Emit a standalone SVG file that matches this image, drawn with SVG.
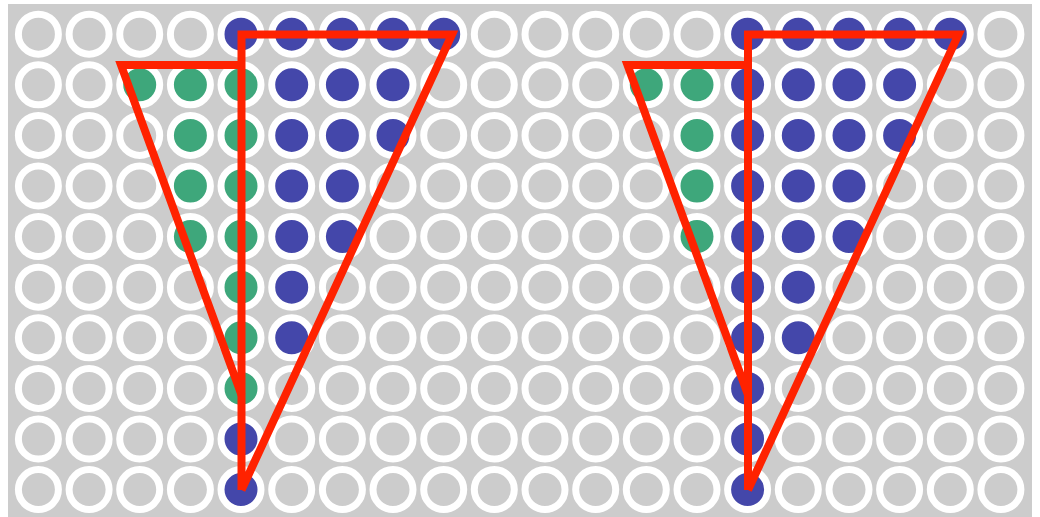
<svg xmlns="http://www.w3.org/2000/svg" width="1040" height="517" viewBox="0 0 1040 517">
<style>
circle{fill:#cccccc;stroke:#ffffff;stroke-width:7}
circle.b{fill:#4447aa}
circle.g{fill:#3ea77b}
.red{fill:none;stroke:#ff2200;stroke-width:8;stroke-linejoin:miter;stroke-miterlimit:10;stroke-linecap:butt}
</style>
<rect x="8" y="4" width="1024" height="513" fill="#cccccc"/>
<g id="grid">
<g id="row0" transform="translate(0,34.2)">
<circle cx="38.4" r="20"/><circle cx="89.1" r="20"/><circle cx="139.7" r="20"/><circle cx="190.4" r="20"/><circle class="b" cx="241" r="20"/><circle class="b" cx="291.7" r="20"/><circle class="b" cx="342.4" r="20"/><circle class="b" cx="393" r="20"/><circle class="b" cx="443.7" r="20"/><circle cx="494.3" r="20"/><circle cx="545" r="20"/><circle cx="595.7" r="20"/><circle cx="646.3" r="20"/><circle cx="697" r="20"/><circle class="b" cx="747.6" r="20"/><circle class="b" cx="798.3" r="20"/><circle class="b" cx="849" r="20"/><circle class="b" cx="899.6" r="20"/><circle class="b" cx="950.3" r="20"/><circle cx="1000.9" r="20"/>
</g>
<g id="row1" transform="translate(0,84.8)">
<circle cx="38.4" r="20"/><circle cx="89.1" r="20"/><circle class="g" cx="139.7" r="20"/><circle class="g" cx="190.4" r="20"/><circle class="g" cx="241" r="20"/><circle class="b" cx="291.7" r="20"/><circle class="b" cx="342.4" r="20"/><circle class="b" cx="393" r="20"/><circle cx="443.7" r="20"/><circle cx="494.3" r="20"/><circle cx="545" r="20"/><circle cx="595.7" r="20"/><circle class="g" cx="646.3" r="20"/><circle class="g" cx="697" r="20"/><circle class="b" cx="747.6" r="20"/><circle class="b" cx="798.3" r="20"/><circle class="b" cx="849" r="20"/><circle class="b" cx="899.6" r="20"/><circle cx="950.3" r="20"/><circle cx="1000.9" r="20"/>
</g>
<g id="row2" transform="translate(0,135.4)">
<circle cx="38.4" r="20"/><circle cx="89.1" r="20"/><circle cx="139.7" r="20"/><circle class="g" cx="190.4" r="20"/><circle class="g" cx="241" r="20"/><circle class="b" cx="291.7" r="20"/><circle class="b" cx="342.4" r="20"/><circle class="b" cx="393" r="20"/><circle cx="443.7" r="20"/><circle cx="494.3" r="20"/><circle cx="545" r="20"/><circle cx="595.7" r="20"/><circle cx="646.3" r="20"/><circle class="g" cx="697" r="20"/><circle class="b" cx="747.6" r="20"/><circle class="b" cx="798.3" r="20"/><circle class="b" cx="849" r="20"/><circle class="b" cx="899.6" r="20"/><circle cx="950.3" r="20"/><circle cx="1000.9" r="20"/>
</g>
<g id="row3" transform="translate(0,186)">
<circle cx="38.4" r="20"/><circle cx="89.1" r="20"/><circle cx="139.7" r="20"/><circle class="g" cx="190.4" r="20"/><circle class="g" cx="241" r="20"/><circle class="b" cx="291.7" r="20"/><circle class="b" cx="342.4" r="20"/><circle cx="393" r="20"/><circle cx="443.7" r="20"/><circle cx="494.3" r="20"/><circle cx="545" r="20"/><circle cx="595.7" r="20"/><circle cx="646.3" r="20"/><circle class="g" cx="697" r="20"/><circle class="b" cx="747.6" r="20"/><circle class="b" cx="798.3" r="20"/><circle class="b" cx="849" r="20"/><circle cx="899.6" r="20"/><circle cx="950.3" r="20"/><circle cx="1000.9" r="20"/>
</g>
<g id="row4" transform="translate(0,236.6)">
<circle cx="38.4" r="20"/><circle cx="89.1" r="20"/><circle cx="139.7" r="20"/><circle class="g" cx="190.4" r="20"/><circle class="g" cx="241" r="20"/><circle class="b" cx="291.7" r="20"/><circle class="b" cx="342.4" r="20"/><circle cx="393" r="20"/><circle cx="443.7" r="20"/><circle cx="494.3" r="20"/><circle cx="545" r="20"/><circle cx="595.7" r="20"/><circle cx="646.3" r="20"/><circle class="g" cx="697" r="20"/><circle class="b" cx="747.6" r="20"/><circle class="b" cx="798.3" r="20"/><circle class="b" cx="849" r="20"/><circle cx="899.6" r="20"/><circle cx="950.3" r="20"/><circle cx="1000.9" r="20"/>
</g>
<g id="row5" transform="translate(0,287.2)">
<circle cx="38.4" r="20"/><circle cx="89.1" r="20"/><circle cx="139.7" r="20"/><circle cx="190.4" r="20"/><circle class="g" cx="241" r="20"/><circle class="b" cx="291.7" r="20"/><circle cx="342.4" r="20"/><circle cx="393" r="20"/><circle cx="443.7" r="20"/><circle cx="494.3" r="20"/><circle cx="545" r="20"/><circle cx="595.7" r="20"/><circle cx="646.3" r="20"/><circle cx="697" r="20"/><circle class="b" cx="747.6" r="20"/><circle class="b" cx="798.3" r="20"/><circle cx="849" r="20"/><circle cx="899.6" r="20"/><circle cx="950.3" r="20"/><circle cx="1000.9" r="20"/>
</g>
<g id="row6" transform="translate(0,337.8)">
<circle cx="38.4" r="20"/><circle cx="89.1" r="20"/><circle cx="139.7" r="20"/><circle cx="190.4" r="20"/><circle class="g" cx="241" r="20"/><circle class="b" cx="291.7" r="20"/><circle cx="342.4" r="20"/><circle cx="393" r="20"/><circle cx="443.7" r="20"/><circle cx="494.3" r="20"/><circle cx="545" r="20"/><circle cx="595.7" r="20"/><circle cx="646.3" r="20"/><circle cx="697" r="20"/><circle class="b" cx="747.6" r="20"/><circle class="b" cx="798.3" r="20"/><circle cx="849" r="20"/><circle cx="899.6" r="20"/><circle cx="950.3" r="20"/><circle cx="1000.9" r="20"/>
</g>
<g id="row7" transform="translate(0,388.4)">
<circle cx="38.4" r="20"/><circle cx="89.1" r="20"/><circle cx="139.7" r="20"/><circle cx="190.4" r="20"/><circle class="g" cx="241" r="20"/><circle cx="291.7" r="20"/><circle cx="342.4" r="20"/><circle cx="393" r="20"/><circle cx="443.7" r="20"/><circle cx="494.3" r="20"/><circle cx="545" r="20"/><circle cx="595.7" r="20"/><circle cx="646.3" r="20"/><circle cx="697" r="20"/><circle class="b" cx="747.6" r="20"/><circle cx="798.3" r="20"/><circle cx="849" r="20"/><circle cx="899.6" r="20"/><circle cx="950.3" r="20"/><circle cx="1000.9" r="20"/>
</g>
<g id="row8" transform="translate(0,439)">
<circle cx="38.4" r="20"/><circle cx="89.1" r="20"/><circle cx="139.7" r="20"/><circle cx="190.4" r="20"/><circle class="b" cx="241" r="20"/><circle cx="291.7" r="20"/><circle cx="342.4" r="20"/><circle cx="393" r="20"/><circle cx="443.7" r="20"/><circle cx="494.3" r="20"/><circle cx="545" r="20"/><circle cx="595.7" r="20"/><circle cx="646.3" r="20"/><circle cx="697" r="20"/><circle class="b" cx="747.6" r="20"/><circle cx="798.3" r="20"/><circle cx="849" r="20"/><circle cx="899.6" r="20"/><circle cx="950.3" r="20"/><circle cx="1000.9" r="20"/>
</g>
<g id="row9" transform="translate(0,489.6)">
<circle cx="38.4" r="20"/><circle cx="89.1" r="20"/><circle cx="139.7" r="20"/><circle cx="190.4" r="20"/><circle class="b" cx="241" r="20"/><circle cx="291.7" r="20"/><circle cx="342.4" r="20"/><circle cx="393" r="20"/><circle cx="443.7" r="20"/><circle cx="494.3" r="20"/><circle cx="545" r="20"/><circle cx="595.7" r="20"/><circle cx="646.3" r="20"/><circle cx="697" r="20"/><circle class="b" cx="747.6" r="20"/><circle cx="798.3" r="20"/><circle cx="849" r="20"/><circle cx="899.6" r="20"/><circle cx="950.3" r="20"/><circle cx="1000.9" r="20"/>
</g>
</g>
<g id="lines">
<path class="red" d="M241.5,490 L241.5,34.5 L452,34.5 L241.5,490"/>
<path class="red" d="M241.5,65 L121,65 L241.5,395"/>
<path class="red" d="M748,490 L748,34.5 L958.5,34.5 L748,490"/>
<path class="red" d="M748,65 L627.5,65 L748,395"/>
</g>
</svg>
